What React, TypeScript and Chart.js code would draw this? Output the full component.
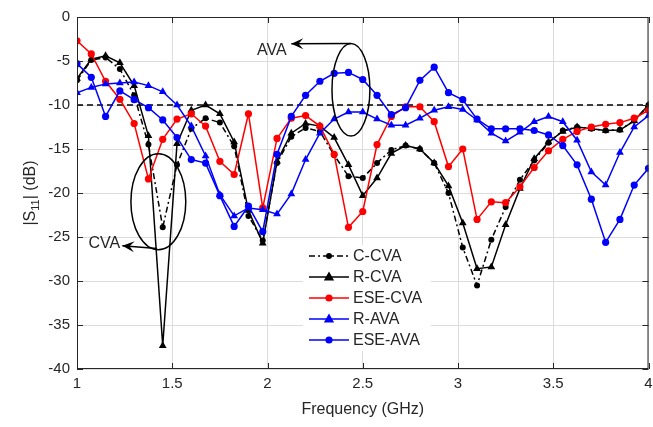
import { useEffect, useRef } from 'react';
import { Chart, registerables } from 'chart.js';
Chart.register(...registerables);

const freq = [1, 1.075, 1.15, 1.225, 1.3, 1.375, 1.45, 1.525, 1.6, 1.675, 1.75, 1.825, 1.9, 1.975, 2.05, 2.125, 2.2, 2.275, 2.35, 2.425, 2.5, 2.575, 2.65, 2.725, 2.8, 2.875, 2.95, 3.025, 3.1, 3.175, 3.25, 3.325, 3.4, 3.475, 3.55, 3.625, 3.7, 3.775, 3.85, 3.925, 4];

const cCVA = [-7.2, -4.9, -4.6, -5.9, -8.9, -14.5, -23.9, -16.8, -12.7, -11.5, -12.0, -14.7, -22.6, -25.4, -16.6, -13.6, -12.6, -13.0, -15.7, -18.1, -18.3, -16.6, -15.1, -14.6, -15.0, -16.6, -20.0, -26.2, -30.5, -25.3, -21.6, -18.5, -16.3, -14.3, -12.9, -12.5, -12.7, -12.9, -12.8, -11.8, -10.0];
const rCVA = [-7.0, -4.8, -4.4, -5.2, -7.8, -13.5, -37.35, -14.4, -10.6, -10.0, -11.0, -14.2, -22.0, -25.7, -16.4, -13.2, -12.1, -12.4, -13.7, -16.8, -20.3, -18.3, -15.5, -14.6, -15.0, -16.6, -19.2, -23.4, -28.6, -28.4, -23.6, -19.5, -16.1, -14.2, -13.0, -12.5, -12.7, -12.9, -12.85, -11.8, -10.0];
const eseCVA = [-2.7, -4.2, -7.3, -9.35, -12.1, -18.4, -13.9, -11.6, -11.0, -12.4, -16.4, -17.9, -11.0, -21.7, -13.8, -11.5, -11.2, -12.4, -15.6, -23.9, -22.1, -14.5, -11.3, -10.2, -10.2, -11.9, -17.0, -15.0, -23.0, -21.0, -21.1, -19.3, -17.1, -15.2, -13.9, -13.0, -12.5, -12.2, -12.0, -11.5, -10.6];
const rAVA = [-8.6, -8.0, -7.6, -7.5, -7.4, -7.8, -8.5, -10.0, -12.4, -15.8, -20.2, -22.6, -21.7, -21.9, -22.4, -20.1, -16.2, -13.2, -11.6, -10.8, -10.8, -11.6, -12.3, -12.3, -11.5, -10.6, -10.2, -10.5, -11.7, -13.2, -14.1, -13.1, -11.9, -11.3, -11.9, -14.0, -17.6, -19.1, -15.4, -12.5, -11.2];
const eseAVA = [-5.3, -6.85, -11.3, -8.4, -9.4, -10.3, -11.7, -13.7, -16.2, -16.6, -20.3, -23.8, -21.5, -24.4, -15.6, -11.3, -8.9, -7.3, -6.4, -6.3, -7.1, -8.9, -11.1, -10.3, -7.2, -5.7, -8.6, -9.4, -11.6, -12.7, -12.7, -12.7, -12.9, -13.4, -14.6, -16.8, -20.7, -25.6, -23.0, -19.1, -17.2];

const refLevel = -10;
const xTickVals = [1, 1.5, 2, 2.5, 3, 3.5, 4];
const yTickVals = [0, -5, -10, -15, -20, -25, -30, -35, -40];

// annotations (data coordinates)
const cvaEllipse = [1.427, -21.0, 0.144, 5.45];
const cvaArrow = [1.42, -26.3, 1.238, -26.0];
const cvaLabel = [1.227, -25.7];
const avaEllipse = [2.438, -8.26, 0.0995, 5.26];
const avaArrow = [2.438, -3.0, 2.125, -3.05];
const avaLabel = [2.1, -3.85];

const FONT = '"Liberation Sans", Arial, sans-serif';
const TXT = '#262626';

const series = [
  { label: 'C-CVA', data: cCVA, color: '#000000', style: 'circle', r: 3, dash: [6, 3, 2, 3] },
  { label: 'R-CVA', data: rCVA, color: '#000000', style: 'triangle', r: 4.5, dash: [] },
  { label: 'ESE-CVA', data: eseCVA, color: '#ff0000', style: 'circle', r: 3.6, dash: [] },
  { label: 'R-AVA', data: rAVA, color: '#0000ff', style: 'triangle', r: 4.5, dash: [] },
  { label: 'ESE-AVA', data: eseAVA, color: '#0000ff', style: 'circle', r: 3.6, dash: [] },
];

function drawMarker(ctx: CanvasRenderingContext2D, style: string, x: number, y: number, r: number, color: string) {
  ctx.fillStyle = color;
  ctx.beginPath();
  if (style === 'circle') {
    ctx.arc(x, y, r, 0, Math.PI * 2);
  } else {
    const s = r * 1.2;
    ctx.moveTo(x, y - s);
    ctx.lineTo(x + s * 0.95, y + s * 0.65);
    ctx.lineTo(x - s * 0.95, y + s * 0.65);
    ctx.closePath();
  }
  ctx.fill();
}

function arrow(ctx: CanvasRenderingContext2D, x1: number, y1: number, x2: number, y2: number) {
  ctx.beginPath();
  ctx.moveTo(x1, y1);
  ctx.lineTo(x2, y2);
  ctx.stroke();
  const ang = Math.atan2(y2 - y1, x2 - x1);
  const L = 12, W = 5.5;
  const bx = x2 - Math.cos(ang) * L, by = y2 - Math.sin(ang) * L;
  const nx = -Math.sin(ang), ny = Math.cos(ang);
  const mx = x2 - Math.cos(ang) * L * 0.6, my = y2 - Math.sin(ang) * L * 0.6;
  ctx.beginPath();
  ctx.moveTo(x2, y2);
  ctx.lineTo(bx + nx * W, by + ny * W);
  ctx.lineTo(mx, my);
  ctx.lineTo(bx - nx * W, by - ny * W);
  ctx.closePath();
  ctx.fill();
}

const decor = {
  id: 'decor',
  afterDraw(chart: any) {
    const { ctx, chartArea: a, scales } = chart;
    const xs = scales.x, ys = scales.y;
    ctx.save();
    // frame
    ctx.strokeStyle = TXT;
    ctx.lineWidth = 1;
    ctx.setLineDash([]);
    ctx.strokeRect(a.left + 0.5, a.top + 0.5, a.right - a.left - 1, a.bottom - a.top - 1);
    ctx.beginPath();
    for (const t of xTickVals) {
      const px = Math.round(xs.getPixelForValue(t)) + 0.5;
      ctx.moveTo(px, a.bottom); ctx.lineTo(px, a.bottom - 6);
      ctx.moveTo(px, a.top); ctx.lineTo(px, a.top + 6);
    }
    for (const t of yTickVals) {
      const py = Math.round(ys.getPixelForValue(t)) + 0.5;
      ctx.moveTo(a.left, py); ctx.lineTo(a.left + 6, py);
      ctx.moveTo(a.right, py); ctx.lineTo(a.right - 6, py);
    }
    ctx.stroke();

    // axis titles
    ctx.fillStyle = TXT;
    ctx.font = `16px ${FONT}`;
    ctx.textAlign = 'center';
    ctx.textBaseline = 'middle';
    ctx.fillText('Frequency (GHz)', (a.left + a.right) / 2, 410);
    ctx.save();
    ctx.translate(31, (a.top + a.bottom) / 2);
    ctx.rotate(-Math.PI / 2);
    ctx.textAlign = 'left';
    const p1 = '|S', p2 = '11', p3 = '| (dB)';
    ctx.font = `16px ${FONT}`;
    const w1 = ctx.measureText(p1).width, w3 = ctx.measureText(p3).width;
    ctx.font = `11px ${FONT}`;
    const w2 = ctx.measureText(p2).width;
    let sx = -(w1 + w2 + w3) / 2;
    ctx.font = `16px ${FONT}`;
    ctx.fillText(p1, sx, 0); sx += w1;
    ctx.font = `11px ${FONT}`;
    ctx.fillText(p2, sx, 5); sx += w2;
    ctx.font = `16px ${FONT}`;
    ctx.fillText(p3, sx, 0);
    ctx.restore();

    // annotations
    ctx.strokeStyle = '#000';
    ctx.fillStyle = '#000';
    ctx.lineWidth = 1.5;
    for (const e of [cvaEllipse, avaEllipse]) {
      const cx = xs.getPixelForValue(e[0]), cy = ys.getPixelForValue(e[1]);
      const rx = Math.abs(xs.getPixelForValue(e[0] + e[2]) - cx);
      const ry = Math.abs(ys.getPixelForValue(e[1] + e[3]) - cy);
      ctx.beginPath();
      ctx.ellipse(cx, cy, rx, ry, 0, 0, Math.PI * 2);
      ctx.stroke();
    }
    for (const ar of [cvaArrow, avaArrow]) {
      arrow(ctx, xs.getPixelForValue(ar[0]), ys.getPixelForValue(ar[1]), xs.getPixelForValue(ar[2]), ys.getPixelForValue(ar[3]));
    }
    ctx.font = `16px ${FONT}`;
    ctx.textAlign = 'right';
    ctx.textBaseline = 'middle';
    ctx.fillStyle = TXT;
    ctx.fillText('CVA', xs.getPixelForValue(cvaLabel[0]), ys.getPixelForValue(cvaLabel[1]));
    ctx.fillText('AVA', xs.getPixelForValue(avaLabel[0]), ys.getPixelForValue(avaLabel[1]));

    // legend
    const lx = 303, ly = 245, lw = 128, lh = 106;
    ctx.fillStyle = '#ffffff';
    ctx.fillRect(lx, ly, lw, lh);
    series.forEach((s, i) => {
      const yy = ly + 11 + i * 21;
      ctx.strokeStyle = s.color;
      ctx.lineWidth = 1.5;
      ctx.setLineDash(s.dash);
      ctx.beginPath();
      ctx.moveTo(lx + 6, yy);
      ctx.lineTo(lx + 46, yy);
      ctx.stroke();
      ctx.setLineDash([]);
      drawMarker(ctx, s.style, lx + 26, yy, s.r, s.color);
      ctx.fillStyle = TXT;
      ctx.font = `16px ${FONT}`;
      ctx.textAlign = 'left';
      ctx.textBaseline = 'middle';
      ctx.fillText(s.label, lx + 50, yy + 1);
    });
    ctx.restore();
  },
};

export default function App() {
  const ref = useRef<HTMLCanvasElement>(null);
  useEffect(() => {
    document.body.style.margin = '0';
    const datasets: any[] = series.map((s, i) => ({
      label: s.label,
      data: freq.map((f, k) => ({ x: f, y: s.data[k] })),
      borderColor: s.color,
      backgroundColor: s.color,
      borderWidth: 1.5,
      borderDash: s.dash,
      pointStyle: s.style,
      pointRadius: s.r,
      pointBorderWidth: 0,
      pointBackgroundColor: s.color,
      tension: 0,
      order: series.length - i + 1,
    }));
    datasets.push({
      label: 'ref',
      data: [{ x: 1, y: refLevel }, { x: 4, y: refLevel }],
      borderColor: '#000',
      borderWidth: 1.5,
      borderDash: [6, 4],
      pointRadius: 0,
      order: 10,
    });
    const chart = new Chart(ref.current!, {
      type: 'line',
      data: { datasets },
      options: {
        animation: false,
        responsive: false,
        layout: { padding: { left: 0, top: 17, right: 3, bottom: 0 } },
        plugins: { legend: { display: false }, tooltip: { enabled: false } },
        scales: {
          x: {
            type: 'linear', min: 1, max: 4,
            ticks: { stepSize: 0.5, padding: 6, color: TXT, font: { family: FONT, size: 15 }, callback: (v: any) => String(Number(v)) },
            grid: { color: '#dcdcdc', drawTicks: false, lineWidth: 1 },
            border: { display: false },
            afterFit: (s: any) => { s.height = 58; s.paddingLeft = 0; s.paddingRight = 0; },
          },
          y: {
            type: 'linear', min: -40, max: 0,
            ticks: { stepSize: 5, padding: 7, color: TXT, font: { family: FONT, size: 15 }, callback: (v: any) => String(Number(v)) },
            grid: { color: '#dcdcdc', drawTicks: false, lineWidth: 1 },
            border: { display: false },
            afterFit: (s: any) => { s.width = 77; s.paddingTop = 0; s.paddingBottom = 0; },
          },
        },
      },
      plugins: [decor],
    } as any);
    return () => chart.destroy();
  }, []);
  return (
    <div style={{ position: 'relative', width: 653, height: 427 }}>
      <canvas ref={ref} width={653} height={427} style={{ width: 653, height: 427, display: 'block' }} />
    </div>
  );
}
